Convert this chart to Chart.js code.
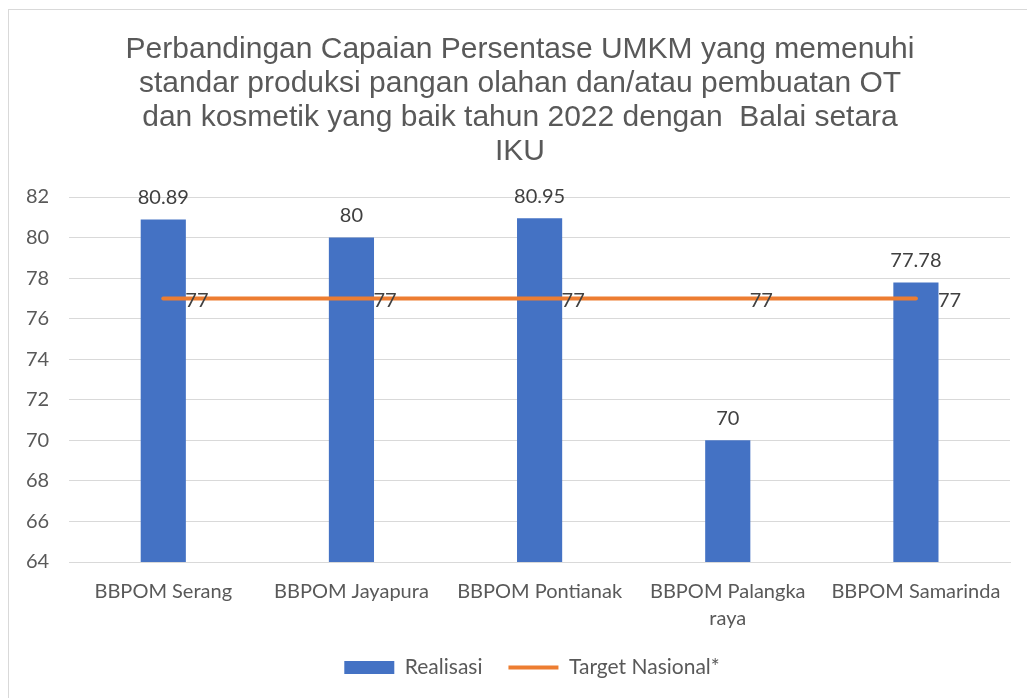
<!DOCTYPE html>
<html>
<head>
<meta charset="utf-8">
<script src="https://cdn.jsdelivr.net/npm/chart.js@4.4.1/dist/chart.umd.min.js"></script>
<style>
  html, body { margin: 0; padding: 0; background: #fff; overflow: hidden; }
  #frame { position: absolute; left: 8px; top: 9px; width: 1100px; height: 800px; border: 1px solid #d9d9d9; }
  #wrap { position: absolute; left: 0; top: 0; width: 1027px; height: 698px; }
</style>
</head>
<body>
<div id="frame"></div>
<div id="wrap"><canvas id="chart"></canvas></div>
<script>
const titleLines = [
    'Perbandingan Capaian Persentase UMKM yang memenuhi',
    'standar produksi pangan olahan dan/atau pembuatan OT',
    'dan kosmetik yang baik tahun 2022 dengan  Balai setara',
    'IKU'
]
const categories = [
    'BBPOM Serang',
    'BBPOM Jayapura',
    'BBPOM Pontianak',
    ['BBPOM Palangka', 'raya'],
    'BBPOM Samarinda'
]
const realisasi = [80.89, 80, 80.95, 70, 77.78]
const targetNasional = [77, 77, 77, 77, 77]
const yTicks = [64, 66, 68, 70, 72, 74, 76, 78, 80, 82]

const textColor = '#595959'
const labelFont = '"Lato", "Liberation Sans", sans-serif'

// title is centred on the whole chart frame, not on the plot
const chartTitle = {
    id: 'chartTitle',
    afterLayout(chart) {
        // legend in the original sits centred on the frame too
        chart.legend.left += 24
        chart.legend.right += 24
    },
    afterDraw(chart) {
        const ctx = chart.ctx
        ctx.save()
        ctx.font = '30px "Liberation Sans", Arial, sans-serif'
        ctx.fillStyle = textColor
        ctx.textAlign = 'center'
        ctx.textBaseline = 'middle'
        titleLines.forEach((line, i) => ctx.fillText(line, 520, 50 + i * 34))
        ctx.restore()
    }
}

// labels above the bars and to the right of the target points
const valueLabels = {
    id: 'valueLabels',
    afterDatasetsDraw(chart) {
        const ctx = chart.ctx
        ctx.save()
        ctx.font = '20px ' + labelFont
        ctx.fillStyle = '#404040'
        ctx.textBaseline = 'middle'
        chart.getDatasetMeta(0).data.forEach((bar, i) => {
            ctx.textAlign = 'center'
            ctx.fillText(String(realisasi[i]), bar.x, bar.y - 22)
        })
        chart.getDatasetMeta(1).data.forEach((pt, i) => {
            ctx.textAlign = 'left'
            ctx.fillText(String(targetNasional[i]), pt.x + 22, pt.y + 2)
        })
        ctx.restore()
    }
}

const ctx = document.getElementById('chart').getContext('2d')
new Chart(ctx, {
    type: 'bar',
    data: {
        labels: categories,
        datasets: [
            {
                label: 'Realisasi',
                data: realisasi,
                backgroundColor: '#4472C4',
                borderWidth: 0,
                barPercentage: 0.24,
                categoryPercentage: 1,
                pointStyle: 'rect',
                order: 1
            },
            {
                type: 'line',
                label: 'Target Nasional*',
                data: targetNasional,
                borderColor: '#ED7D31',
                backgroundColor: '#ED7D31',
                borderWidth: 4,
                borderCapStyle: 'round',
                pointRadius: 0,
                pointStyle: 'line',
                order: 0
            }
        ]
    },
    options: {
        responsive: true,
        maintainAspectRatio: false,
        animation: false,
        layout: { padding: { left: 6, right: 17, top: 197, bottom: 10 } },
        plugins: {
            title: { display: false },
            legend: {
                position: 'bottom',
                labels: {
                    usePointStyle: true,
                    pointStyleWidth: 50,
                    boxHeight: 13,
                    color: textColor,
                    padding: 26,
                    font: { family: labelFont, size: 21 },
                    sort: (a, b) => a.datasetIndex - b.datasetIndex
                }
            },
            tooltip: { enabled: false }
        },
        scales: {
            x: {
                grid: { display: false },
                border: { color: '#d9d9d9', width: 1 },
                afterFit: (axis) => { axis.height -= 9 },
                ticks: {
                    color: textColor,
                    font: { family: labelFont, size: 20, lineHeight: 1.35 },
                    maxRotation: 0,
                    autoSkip: false,
                    padding: 8
                }
            },
            y: {
                min: 64,
                max: 82,
                afterBuildTicks: (axis) => { axis.ticks = yTicks.map(v => ({ value: v })) },
                grid: { color: '#d9d9d9', drawTicks: false },
                border: { display: false },
                ticks: {
                    color: textColor,
                    font: { family: labelFont, size: 20 },
                    padding: 20
                }
            }
        }
    },
    plugins: [valueLabels, chartTitle]
})
</script>
</body>
</html>
